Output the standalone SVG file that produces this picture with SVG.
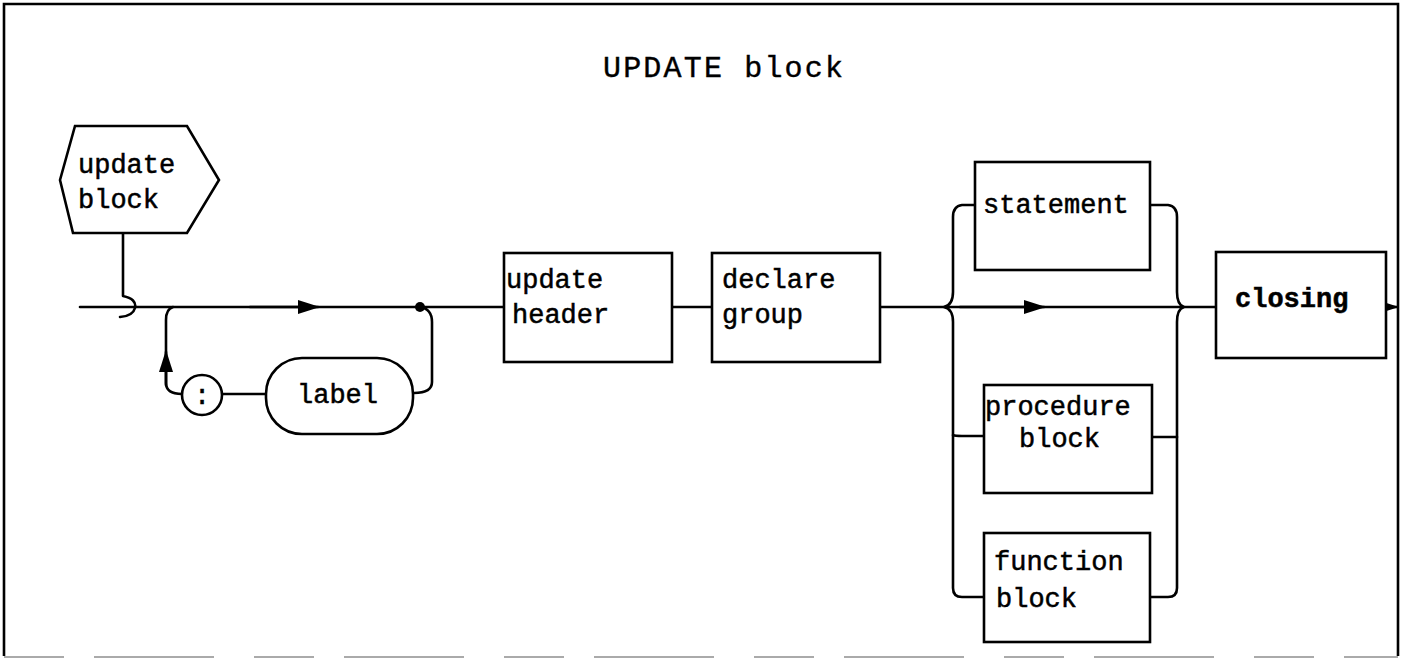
<svg xmlns="http://www.w3.org/2000/svg" width="1403" height="660" viewBox="0 0 1403 660">
<style>
.box{fill:#fff;stroke:#000;stroke-width:2.6}
.ln{fill:none;stroke:#000;stroke-width:2.6;stroke-linecap:round;stroke-linejoin:round}
.t{font-family:"Liberation Mono","DejaVu Sans Mono",monospace;font-size:27px;fill:#000;stroke:#000;stroke-width:0.5}
.title{font-family:"Liberation Mono","DejaVu Sans Mono",monospace;font-size:30px;fill:#000;stroke:#000;stroke-width:0.4}
</style>
<defs>
<marker id="ah" markerWidth="24" markerHeight="14" refX="20" refY="7" orient="auto" markerUnits="userSpaceOnUse">
<path d="M0,0 L22,7 L0,14 Z" fill="#000"/>
</marker>
</defs>
<rect width="1403" height="660" fill="#fff"/>
<g id="frame">
<path d="M4,656 L4,4 L1398,4 L1398,656" fill="none" stroke="#000" stroke-width="2.6"/>
<path d="M4,657 L1398,657" fill="none" stroke="#aaa" stroke-width="2" stroke-dasharray="60,30,120,40"/>
<text class="title" x="603" y="77" textLength="240" lengthAdjust="spacing">UPDATE block</text>
</g>
<g id="connectors">
<path class="ln" d="M123,234 L123,296 Q137,299 135,308 Q133,316 120,317"/>
<path class="ln" d="M80,307 L503,307"/>
<path class="ln" d="M250,307 L318,307" marker-end="url(#ah)"/>
<circle cx="420" cy="307" r="5" fill="#000"/>
<path class="ln" d="M420,307 Q432,309 432,322 L432,382 Q432,393 414,393"/>
<path class="ln" d="M173,307 Q166,309 166,320 L166,383 Q166,394 182,394"/>
<path class="ln" d="M166,385 L166,352" marker-end="url(#ah)"/>
<path class="ln" d="M222,394 L266,394"/>
<path class="ln" d="M672,307 L712,307"/>
<path class="ln" d="M880,307 L1215,307"/>
<path class="ln" d="M960,307 L1044,307" marker-end="url(#ah)"/>
<path class="ln" d="M975,205 L962,205 Q953,206 953,217 L953,292 Q953,305 944,307 Q953,309 953,322 L953,588 Q953,597 962,597 L984,597"/>
<path class="ln" d="M953,435 Q955,436 962,436 L984,436"/>
<path class="ln" d="M1150,205 L1168,205 Q1177,206 1177,217 L1177,292 Q1177,305 1184,307 Q1177,309 1177,322 L1177,588 Q1177,597 1168,597 L1150,597"/>
<path class="ln" d="M1152,437 L1177,437"/>
<path class="ln" d="M1386,307 L1397,307" marker-end="url(#ah)"/>
</g>
<g id="update-block">
<polygon class="box" points="60,180 75,126 187,126 219,180 187,233 73,233"/>
<text class="t" x="78" y="173">update</text>
<text class="t" x="78" y="208">block</text>
</g>
<g id="colon">
<circle class="box" cx="202" cy="395" r="20"/>
<text class="t" x="202" y="404" text-anchor="middle">:</text>
</g>
<g id="label">
<rect class="box" x="266" y="358" width="147" height="76" rx="36" ry="36"/>
<text class="t" x="297" y="403">label</text>
</g>
<g id="update-header">
<rect class="box" x="504" y="253" width="168" height="109"/>
<text class="t" x="506" y="288">update</text>
<text class="t" x="512" y="323">header</text>
</g>
<g id="declare-group">
<rect class="box" x="712" y="253" width="168" height="109"/>
<text class="t" x="722" y="288">declare</text>
<text class="t" x="722" y="323">group</text>
</g>
<g id="statement">
<rect class="box" x="975" y="162" width="175" height="108"/>
<text class="t" x="983" y="213">statement</text>
</g>
<g id="procedure-block">
<rect class="box" x="984" y="385" width="168" height="108"/>
<text class="t" x="985" y="415">procedure</text>
<text class="t" x="1019" y="447">block</text>
</g>
<g id="function-block">
<rect class="box" x="984" y="533" width="166" height="109"/>
<text class="t" x="994" y="570">function</text>
<text class="t" x="996" y="607">block</text>
</g>
<g id="closing">
<rect class="box" x="1216" y="252" width="170" height="106"/>
<text class="t" x="1235" y="307" font-weight="bold">closing</text>
</g>
</svg>
